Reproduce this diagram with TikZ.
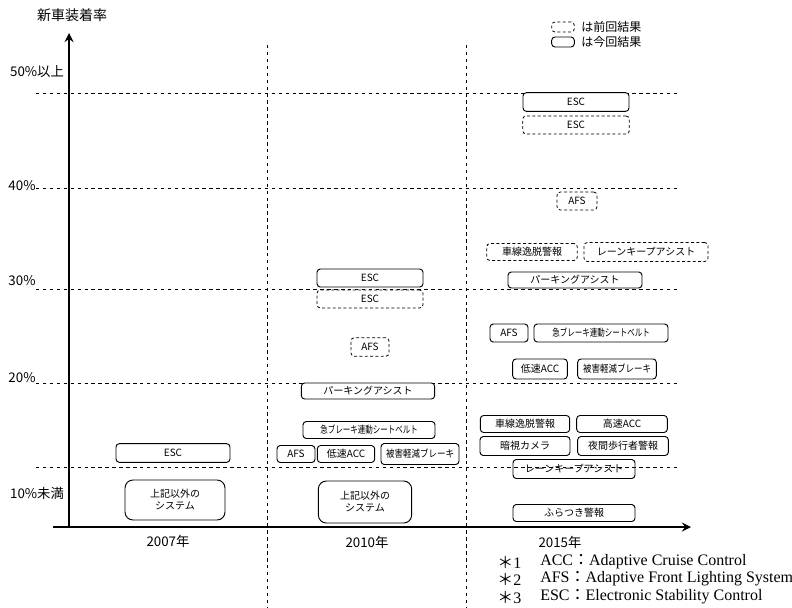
\documentclass[tikz,border=0pt]{standalone}
\usepackage{fontspec}
\usepackage{graphicx}
\setmainfont{Liberation Serif}
\newfontfamily\jp{Noto Sans CJK JP}
\newcommand{\narrow}[2]{\scalebox{#1}[1]{#2}}
\begin{document}
\begin{tikzpicture}[>=stealth, x=0.75pt, y=-0.75pt,
  curbox/.style={draw, rounded corners=2.5pt, fill=white, line width=0.7pt, inner sep=0pt, font=\jp\fontsize{7.5}{9}\selectfont},
  prevbox/.style={curbox, line width=0.6pt, dash pattern=on 2.2pt off 1.8pt},
  gridline/.style={line width=0.55pt, dash pattern=on 2.6pt off 2.6pt},
  lab/.style={inner sep=0pt, font=\jp\fontsize{10}{12}\selectfont},
  note/.style={inner sep=0pt, font=\fontsize{12}{14}\selectfont}]
\useasboundingbox (0,0) rectangle (792,607);
\draw[gridline] (36,93) -- (677,93);
\draw[gridline] (36,188) -- (677,188);
\draw[gridline] (36,289) -- (677,289);
\draw[gridline] (36,383) -- (677,383);
\draw[gridline] (36,467) -- (677,467);
\draw[gridline] (267,45) -- (267,607);
\draw[gridline] (466,45) -- (466,607);
\coordinate (orig) at (69,527);
\coordinate (ytop) at (69,33);
\coordinate (xleft) at (53,527);
\coordinate (xright) at (691,527);
\draw[->, line width=2pt] (orig) -- (ytop);
\draw[->, line width=2pt] (xleft) -- (xright);
\node[lab, font=\jp\fontsize{10.5}{12}\selectfont] (ylab) at (72,15) {新車装着率};
\node[lab] (p50) at (37,72) {50\%以上};
\node[lab] (p40) at (22,186) {40\%};
\node[lab] (p30) at (22,281) {30\%};
\node[lab] (p20) at (22,378) {20\%};
\node[lab] (p10) at (37,493) {10\%未満};
\node[lab] (y07) at (168,541) {2007年};
\node[lab] (y10) at (367,542) {2010年};
\node[lab] (y15) at (560,542) {2015年};
\node[prevbox, minimum width=17pt, minimum height=7.5pt] (keyprev) at (563,27) {};
\node[lab, anchor=west, font=\jp\fontsize{9}{10}\selectfont] (keyprevtxt) at (581,27) {は前回結果};
\node[curbox, minimum width=17pt, minimum height=7.5pt] (keycur) at (563,42) {};
\node[lab, anchor=west, font=\jp\fontsize{9}{10}\selectfont] (keycurtxt) at (581,42) {は今回結果};
\node[curbox, minimum width=85.5pt, minimum height=14pt] (esc07) at (173,453) {ESC};
\node[curbox, rounded corners=6pt, align=center, minimum width=75pt, minimum height=30pt] (etc07) at (175,500) {上記以外の\\システム};
\node[curbox, minimum width=79.5pt, minimum height=13.5pt] (esc10) at (370,278) {ESC};
\node[prevbox, minimum width=79.5pt, minimum height=13.5pt] (esc10p) at (370,299) {ESC};
\node[prevbox, minimum width=28.5pt, minimum height=14pt] (afs10p) at (370,347) {AFS};
\node[curbox, minimum width=100pt, minimum height=12pt] (park10) at (368,391) {パーキングアシスト};
\node[curbox, minimum width=99pt, minimum height=12.75pt] (belt10) at (369,430) {\narrow{0.75}{急ブレーキ連動シートベルト}};
\node[curbox, minimum width=28.5pt, minimum height=12.75pt] (afs10) at (296,454) {AFS};
\node[curbox, minimum width=43pt, minimum height=12.75pt] (acc10) at (346,454) {低速ACC};
\node[curbox, minimum width=58.5pt, minimum height=15.75pt] (brk10) at (420,454) {\narrow{0.85}{被害軽減ブレーキ}};
\node[curbox, rounded corners=6pt, align=center, minimum width=70pt, minimum height=31.5pt] (etc10) at (365,502) {上記以外の\\システム};
\node[curbox, minimum width=79.5pt, minimum height=14pt] (esc15) at (576,102) {ESC};
\node[prevbox, minimum width=80pt, minimum height=13.5pt] (esc15p) at (576,125) {ESC};
\node[prevbox, minimum width=30pt, minimum height=13.5pt] (afs15p) at (577,201) {AFS};
\node[prevbox, minimum width=68pt, minimum height=12.75pt] (ldw15p) at (532,252) {車線逸脱警報};
\node[prevbox, minimum width=93pt, minimum height=14.25pt] (lka15p) at (646,252) {レーンキープアシスト};
\node[curbox, minimum width=100.5pt, minimum height=12pt] (park15) at (575,280) {パーキングアシスト};
\node[curbox, minimum width=28.5pt, minimum height=13.5pt] (afs15) at (509,333) {AFS};
\node[curbox, minimum width=100.5pt, minimum height=13.5pt] (belt15) at (601,333) {\narrow{0.75}{急ブレーキ連動シートベルト}};
\node[curbox, minimum width=41pt, minimum height=15pt] (acc15) at (540,369) {低速ACC};
\node[curbox, minimum width=59pt, minimum height=15pt] (brk15) at (617,369) {\narrow{0.85}{被害軽減ブレーキ}};
\node[curbox, minimum width=67pt, minimum height=12.75pt] (ldw15) at (525,424) {車線逸脱警報};
\node[curbox, minimum width=68pt, minimum height=12.75pt] (hacc15) at (622,424) {高速ACC};
\node[curbox, minimum width=67.5pt, minimum height=14.25pt] (nv15) at (525,446) {暗視カメラ};
\node[curbox, minimum width=68pt, minimum height=14.25pt] (ped15) at (623,446) {夜間歩行者警報};
\node[curbox, fill=none, minimum width=91.5pt, minimum height=14.25pt] (lka15) at (574,469) {レーンキープアシスト};
\node[curbox, minimum width=91.5pt, minimum height=12.75pt] (sway15) at (574,513) {ふらつき警報};
\node[note, anchor=west] (mark1) at (497,562) {{\jp ＊}1};
\node[note, anchor=west] (note1) at (540,562) {ACC{\jp ：}Adaptive Cruise Control};
\node[note, anchor=west] (mark2) at (497,579) {{\jp ＊}2};
\node[note, anchor=west] (note2) at (540,579) {AFS{\jp ：}Adaptive Front Lighting System};
\node[note, anchor=west] (mark3) at (497,597) {{\jp ＊}3};
\node[note, anchor=west] (note3) at (540,597) {ESC{\jp ：}Electronic Stability Control};
\end{tikzpicture}
\end{document}
